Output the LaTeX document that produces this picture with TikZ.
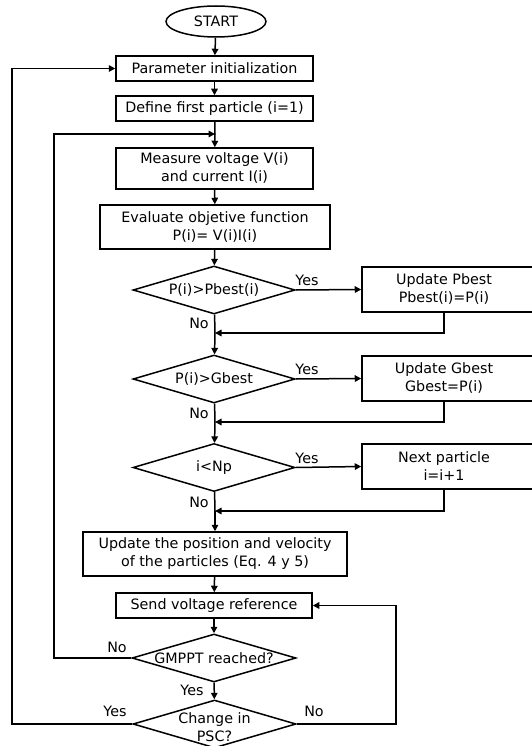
\documentclass[tikz,border=0pt]{standalone}
\usepackage{fontspec}
\setmainfont{DejaVu Sans}
\usetikzlibrary{shapes.geometric,arrows.meta}
\begin{document}
\begin{tikzpicture}[x=1pt,y=-1pt,
  every node/.style={font=\fontsize{14.3}{18}\selectfont, align=center, inner sep=0pt},
  box/.style={draw, line width=1.5pt, minimum width=#1},
  dia/.style={draw, diamond, line width=1.5pt, minimum width=162pt, minimum height=48pt, inner sep=0pt},
  lbl/.style={font=\fontsize{14.3}{16}\selectfont},
  flow/.style={line width=1.5pt, -{Triangle[length=6.5pt,width=6.5pt]}},
  wire/.style={line width=1.5pt}]
\useasboundingbox (0,0) rectangle (532,746);

% main column
\node[draw, ellipse, line width=1.5pt, minimum width=100pt, minimum height=31pt] (start) at (216,21.5) {START};
\node[box=197pt, minimum height=25pt] (init) at (214.5,68.5) {Parameter initialization};
\node[box=197pt, minimum height=25pt] (first) at (214.5,108.5) {Define first particle (i=1)};
\node[box=197pt, minimum height=41pt] (meas) at (214.5,168.5) {Measure voltage V(i)\\and current I(i)};
\node[box=230pt, minimum height=44pt] (eval) at (215,227) {Evaluate objetive function\\P(i)= V(i)I(i)};
\node[dia] (d1) at (214,290) {};
\node at (d1) {P(i)>Pbest(i)};
\node[dia] (d2) at (214,379) {};
\node at (d2) {P(i)>Gbest};
\node[dia] (d3) at (214,467.5) {};
\node at (d3) {i<Np};
\node[box=264pt, minimum height=44pt] (upd) at (215,554) {Update the position and velocity\\of the particles (Eq. 4 y 5)};
\node[box=196pt, minimum height=25pt] (send) at (214,605.5) {Send voltage reference};
\node[dia, minimum width=164pt] (gm) at (214,658) {};
\node at (gm) {GMPPT reached?};
\node[dia, minimum width=163pt] (psc) at (214.5,724) {};
\node at ([yshift=-3pt]psc) {Change in\\PSC?};

% side boxes
\node[box=172pt, minimum height=45pt] (pb) at (448,289.5) {};
\node at (444,289.5) {Update Pbest\\Pbest(i)=P(i)};
\node[box=172pt, minimum height=45pt] (gb) at (448,378.5) {};
\node at (444,378.5) {Update Gbest\\Gbest=P(i)};
\node[box=172pt, minimum height=45pt] (np) at (448,466.5) {};
\node at (444,466.5) {Next particle\\i=i+1};

% junction points on the main column
\coordinate (j0) at (215,134);
\coordinate (j1) at (215,333);
\coordinate (j2) at (215,422);
\coordinate (j3) at (215,511);

% straight flow
\draw[flow] (start) -- (init);
\draw[flow] (init) -- (first);
\draw[wire] (first) -- (j0);
\draw[flow] (j0) -- (meas);
\draw[flow] (meas) -- (eval);
\draw[flow] (eval) -- (d1);
\draw[wire] (d1) -- (j1);
\draw[flow] (j1) -- (d2);
\draw[wire] (d2) -- (j2);
\draw[flow] (j2) -- (d3);
\draw[wire] (d3) -- (j3);
\draw[flow] (j3) -- (upd);
\draw[flow] (upd) -- (send);
\draw[flow] (send) -- (gm);
\draw[flow] (gm) -- (psc);

% yes branches
\draw[flow] (d1.east) -- (pb.west);
\draw[flow] (d2.east) -- (gb.west);
\draw[flow] (d3.east) -- (np.west);
\draw[flow] (444,312) |- (j1);
\draw[flow] (444,401) |- (j2);
\draw[flow] (444,489) |- (j3);

% loops
\draw[flow] (gm.west) -- (54,658) |- (j0);
\draw[flow] (psc.west) -- (12,724) |- (init.west);
\draw[flow] (psc.east) -- (396,724) |- (send.east);

% labels
\node[lbl] at (307,280) {Yes};
\node[lbl] at (199,323) {No};
\node[lbl] at (307,369) {Yes};
\node[lbl] at (199,413) {No};
\node[lbl] at (307,458) {Yes};
\node[lbl] at (199,502) {No};
\node[lbl] at (117,647) {No};
\node[lbl] at (192,690) {Yes};
\node[lbl] at (115,711) {Yes};
\node[lbl] at (314,711) {No};
\end{tikzpicture}
\end{document}
